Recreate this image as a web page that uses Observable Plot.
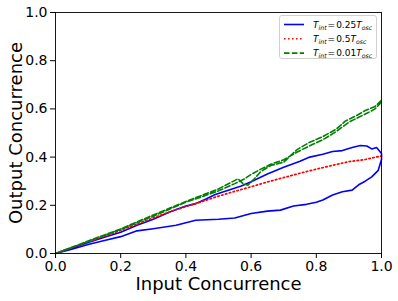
<!DOCTYPE html>
<html>
<head>
<meta charset="utf-8">
<script src="https://cdn.jsdelivr.net/npm/d3@7"></script>
<script src="https://cdn.jsdelivr.net/npm/@observablehq/plot@0.6"></script>
<style>
  html, body { margin: 0; padding: 0; background: white; }
</style>
</head>
<body>
<div id="chart"></div>
<script>
// ---- data ----
const xTicks = [0, 0.2, 0.4, 0.6, 0.8, 1.0];
const yTicks = [0, 0.2, 0.4, 0.6, 0.8, 1.0];

// T_int = 0.25 T_osc (blue solid) : closed loop, upper branch then lower branch
const blueCurve = [
  [0,0],[0.05,0.024],[0.1,0.046],[0.15,0.067],[0.2,0.088],[0.25,0.117],[0.3,0.142],
  [0.35,0.172],[0.4,0.197],[0.43,0.207],[0.46,0.225],[0.49,0.245],[0.53,0.262],
  [0.57,0.28],[0.6,0.298],[0.65,0.33],[0.7,0.358],[0.75,0.383],[0.78,0.4],
  [0.82,0.412],[0.85,0.423],[0.88,0.427],[0.91,0.44],[0.935,0.448],[0.955,0.446],
  [0.97,0.434],[0.985,0.44],[1.0,0.415],[1.0,0.39],
  [0.99,0.345],[0.97,0.318],[0.95,0.3],[0.93,0.285],[0.91,0.263],[0.88,0.256],
  [0.85,0.243],[0.82,0.222],[0.8,0.213],[0.77,0.204],[0.73,0.197],[0.69,0.18],
  [0.65,0.176],[0.6,0.166],[0.55,0.147],[0.5,0.142],[0.43,0.138],[0.37,0.117],
  [0.3,0.103],[0.25,0.094],[0.2,0.07],[0.15,0.054],[0.1,0.037],[0.05,0.018],[0,0]
];

// T_int = 0.5 T_osc (red dotted)
const redCurve = [
  [0,0],[0.1,0.048],[0.2,0.096],[0.3,0.148],[0.37,0.182],[0.43,0.207],[0.5,0.238],
  [0.55,0.258],[0.6,0.277],[0.65,0.297],[0.7,0.315],[0.75,0.333],[0.8,0.35],
  [0.85,0.366],[0.9,0.381],[0.95,0.39],[1.0,0.405]
];

// T_int = 0.01 T_osc (green dashed): outward and return branches
const greenCurve = [
  [0,0],[0.1,0.05],[0.2,0.1],[0.3,0.155],[0.4,0.213],[0.45,0.236],[0.5,0.26],
  [0.55,0.29],[0.58,0.31],[0.6,0.328],[0.63,0.35],[0.66,0.37],[0.7,0.389],
  [0.74,0.42],[0.78,0.447],[0.82,0.472],[0.86,0.505],[0.9,0.545],[0.93,0.565],
  [0.96,0.585],[0.98,0.6],[1.0,0.628],
  [1.0,0.636],[0.98,0.61],[0.95,0.593],[0.92,0.57],[0.89,0.55],[0.86,0.515],
  [0.82,0.485],[0.78,0.462],[0.74,0.43],[0.7,0.379],[0.66,0.365],[0.63,0.34],
  [0.61,0.31],[0.59,0.283],[0.575,0.29],[0.56,0.31],[0.5,0.268],[0.4,0.216],
  [0.3,0.16],[0.2,0.102],[0.1,0.052],[0,0]
];

const legendLabels = [
  {sub: "int", val: "0.25", sub2: "osc"},
  {sub: "int", val: "0.5", sub2: "osc"},
  {sub: "int", val: "0.01", sub2: "osc"}
];
const seriesColors = ["#0000ff", "#ff0000", "#008000"];
const seriesDash = [null, "1.5 2.5", "5.5 2.4"];

const xLabel = "Input Concurrence";
const yLabel = "Output Concurrence";

// ---- chart ----
const curves = [blueCurve, redCurve, greenCurve];

const plot = Plot.plot({
  width: 398,
  height: 301,
  marginLeft: 55,
  marginRight: 17,
  marginTop: 12,
  marginBottom: 48,
  style: {fontFamily: "DejaVu Sans", background: "white", color: "black"},
  x: {domain: [0, 1]},
  y: {domain: [0, 1]},
  marks: [
    ...curves.map((c, i) => Plot.line(c, {
      x: d => d[0], y: d => d[1],
      stroke: seriesColors[i],
      strokeWidth: i === 1 ? 1.7 : 1.6,
      strokeDasharray: seriesDash[i],
      curve: "linear"
    })),
    Plot.frame({stroke: "black", strokeWidth: 0.9}),
    Plot.axisX({ticks: xTicks, tickFormat: d3.format(".1f"), tickSize: 5, tickPadding: 3, fontSize: 14, label: null}),
    Plot.axisY({ticks: yTicks, tickFormat: d3.format(".1f"), tickSize: 5, tickPadding: 3, fontSize: 14, label: null}),
    Plot.text([xLabel], {text: d => d, frameAnchor: "bottom", dy: 31, fontSize: 18, lineAnchor: "middle", textAnchor: "middle"}),
    Plot.text([yLabel], {text: d => d, frameAnchor: "left", dx: -39, rotate: -90, fontSize: 18, lineAnchor: "middle", textAnchor: "middle"})
  ]
});

document.getElementById("chart").appendChild(plot);

// ---- legend (drawn into the same SVG) ----
const svg = d3.select(plot);
const lg = svg.append("g").attr("transform", "translate(279,15)").attr("text-anchor", "start");
lg.append("rect")
  .attr("x", 0.5).attr("y", 0.5).attr("width", 97).attr("height", 43)
  .attr("rx", 2.5).attr("fill", "white").attr("fill-opacity", 0.85)
  .attr("stroke", "#d0d0d0").attr("stroke-width", 1);

legendLabels.forEach((lab, i) => {
  const yy = 9.5 + i * 14.3;
  lg.append("line")
    .attr("x1", 5).attr("x2", 25).attr("y1", yy).attr("y2", yy)
    .attr("stroke", seriesColors[i]).attr("stroke-width", 1.6)
    .attr("stroke-dasharray", seriesDash[i]);
  const t = lg.append("text")
    .attr("x", 34).attr("y", yy + 3.3)
    .attr("text-anchor", "start")
    .attr("font-family", "DejaVu Sans").attr("font-size", 9).attr("fill", "black");
  t.append("tspan").attr("font-style", "italic").text("T");
  t.append("tspan").attr("font-style", "italic").attr("font-size", 6.2).attr("dy", 1.8).text(lab.sub);
  t.append("tspan").attr("dy", -1.8).attr("dx", 1).text("=");
  t.append("tspan").attr("dx", 1).text(lab.val);
  t.append("tspan").attr("font-style", "italic").text("T");
  t.append("tspan").attr("font-style", "italic").attr("font-size", 6.2).attr("dy", 1.8).text(lab.sub2);
});
</script>
</body>
</html>
